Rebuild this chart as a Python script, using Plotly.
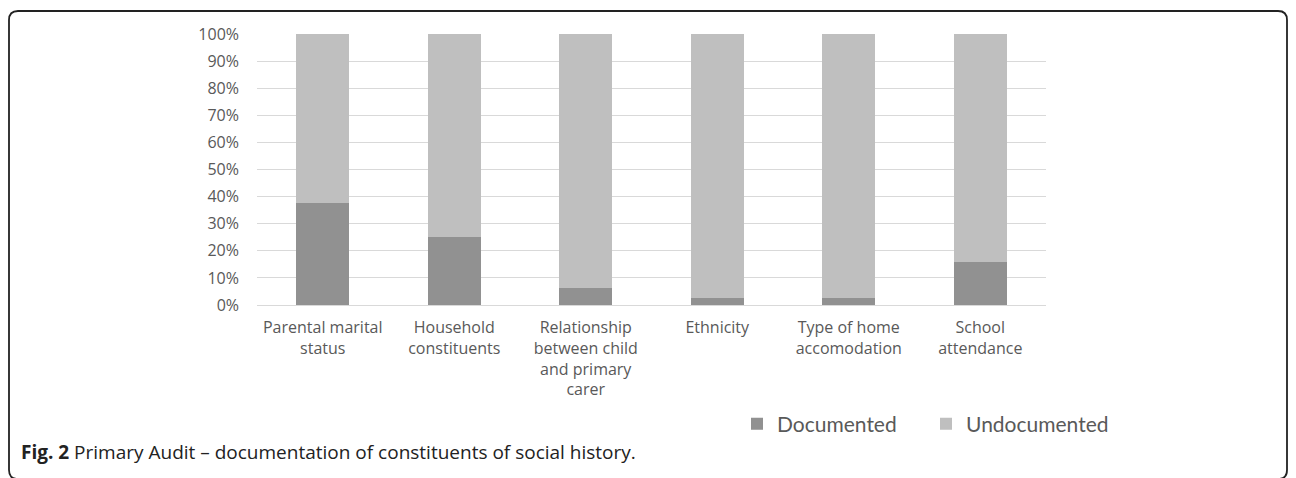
import plotly.graph_objects as go

categories = ["Parental marital<br>status", "Household<br>constituents",
              "Relationship<br>between child<br>and primary<br>carer", "Ethnicity",
              "Type of home<br>accomodation", "School<br>attendance"]
documented = [37.5, 25.0, 6.3, 2.5, 2.5, 16.0]
undocumented = [100 - v for v in documented]
y_ticks = [0, 10, 20, 30, 40, 50, 60, 70, 80, 90, 100]
y_tick_labels = [f"{v}%" for v in y_ticks]

W, H = 1296, 478
L, R, T, B = 257, 1046, 34, 305
pw, ph = R - L, B - T

def px(x):
    return (x - L) / pw

def py(y):
    return (B - y) / ph

axis_font = "'Open Sans', sans-serif"
text_col = "#595959"

fig = go.Figure()
fig.add_trace(go.Bar(x=categories, y=documented, name="Documented",
                     marker=dict(color="#919191", line=dict(width=0))))
fig.add_trace(go.Bar(x=categories, y=undocumented, name="Undocumented",
                     marker=dict(color="#bfbfbf", line=dict(width=0))))

# rounded frame
x0, x1, y0, y1 = px(9), px(1287), py(11), py(479)
rx, ry = 9 / pw, 9 / ph
path = (f"M {x0+rx},{y0} L {x1-rx},{y0} Q {x1},{y0} {x1},{y0-ry} "
        f"L {x1},{y1+ry} Q {x1},{y1} {x1-rx},{y1} L {x0+rx},{y1} Q {x0},{y1} {x0},{y1+ry} "
        f"L {x0},{y0-ry} Q {x0},{y0} {x0+rx},{y0} Z")

fig.update_layout(
    width=W, height=H,
    margin=dict(l=L, r=W - R, t=T, b=H - B),
    barmode="stack", bargap=0.6,
    plot_bgcolor="white", paper_bgcolor="white",
    font=dict(family=axis_font, color=text_col, size=16),
    xaxis=dict(showgrid=False, showline=False, ticks="", tickangle=0,
               ticklabelstandoff=11, tickfont=dict(family=axis_font, size=16, color=text_col)),
    yaxis=dict(range=[0, 100], tickvals=y_ticks, ticktext=y_tick_labels,
               showgrid=True, gridcolor="#d9d9d9", gridwidth=1.3,
               zeroline=True, zerolinecolor="#d9d9d9", zerolinewidth=1.3,
               ticks="", ticklabelstandoff=17, tickfont=dict(family=axis_font, size=16, color=text_col)),
    legend=dict(orientation="h", x=px(737), xanchor="left", y=py(424), yanchor="middle",
                font=dict(family="Lato, sans-serif", size=21, color=text_col), traceorder="normal",
                itemwidth=30, entrywidth=144, bgcolor="rgba(0,0,0,0)"),
    shapes=[dict(type="path", xref="paper", yref="paper", path=path,
                 line=dict(color="#222222", width=1.8), fillcolor="rgba(0,0,0,0)",
                 layer="above")],
    annotations=[dict(xref="paper", yref="paper", x=px(19), y=py(452),
                      xanchor="left", yanchor="middle", showarrow=False,
                      text="<b>Fig. 2</b> Primary Audit – documentation of constituents of social history.",
                      font=dict(family="'Open Sans', sans-serif", size=19, color="#222222"))],
)

fig.write_html("out.html")
